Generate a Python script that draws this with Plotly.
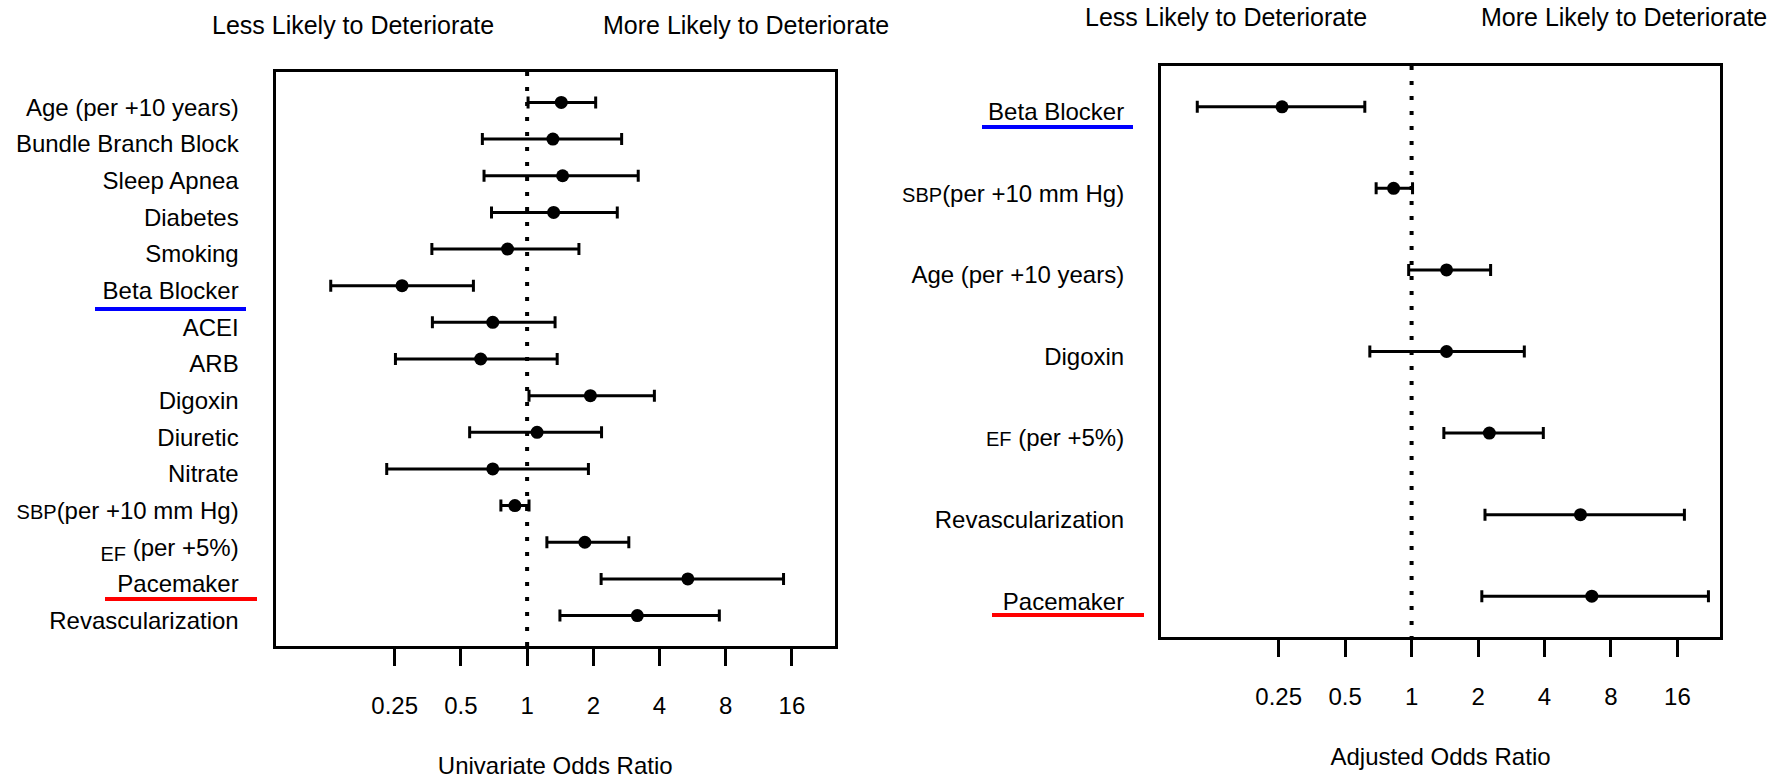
import math
import plotly.graph_objects as go

# ---------------- data ----------------
uni_labels = [
    "Age (per +10 years)", "Bundle Branch Block", "Sleep Apnea", "Diabetes", "Smoking",
    "Beta Blocker", "ACEI", "ARB", "Digoxin", "Diuretic", "Nitrate",
    "<span style='font-size:20px'>SBP</span>(per +10 mm Hg)",
    "<sub><span style='font-size:20px'>EF</span></sub> (per +5%)",
    "Pacemaker", "Revascularization",
]
uni_or = [1.43, 1.31, 1.45, 1.32, 0.815, 0.27, 0.698, 0.615, 1.94, 1.11, 0.698, 0.88, 1.83, 5.38, 3.17]
uni_lo = [1.01, 0.626, 0.637, 0.689, 0.369, 0.128, 0.371, 0.252, 1.02, 0.548, 0.23, 0.76, 1.23, 2.17, 1.41]
uni_hi = [2.05, 2.69, 3.2, 2.57, 1.72, 0.57, 1.34, 1.37, 3.79, 2.18, 1.9, 1.02, 2.9, 14.65, 7.48]

adj_labels = [
    "Beta Blocker",
    "<span style='font-size:20px'>SBP</span>(per +10 mm Hg)",
    "Age (per +10 years)", "Digoxin",
    "<span style='font-size:20px'>EF</span> (per +5%)",
    "Revascularization", "Pacemaker",
]
adj_or = [0.259, 0.829, 1.44, 1.44, 2.25, 5.82, 6.55]
adj_lo = [0.107, 0.691, 0.97, 0.647, 1.40, 2.15, 2.08]
adj_hi = [0.614, 1.01, 2.28, 3.24, 3.95, 17.2, 22.1]

x_tickvals = [0.25, 0.5, 1, 2, 4, 8, 16]
x_ticktext = ["0.25", "0.5", "1", "2", "4", "8", "16"]
ref_or = [1, 1]

W, H = 1784, 783
FONT = "Liberation Sans, Arial, Helvetica, sans-serif"
FS = 24
FS_HEAD = 25


def px(x):
    return x / W


def py(y):
    return 1 - y / H


fig = go.Figure()


def add_panel(labels, orv, lo, hi, xa, ya, yrange):
    ys = list(range(len(labels)))
    fig.add_trace(go.Scatter(
        x=ref_or, y=list(yrange), mode="lines", xaxis=xa, yaxis=ya,
        line=dict(color="black", width=4, dash="4px,11px"), hoverinfo="skip", showlegend=False,
    ))
    fig.add_trace(go.Scatter(
        x=orv, y=ys, mode="markers", xaxis=xa, yaxis=ya, showlegend=False,
        marker=dict(color="black", size=13, symbol="circle"),
        error_x=dict(type="data", symmetric=False,
                     array=[h - o for h, o in zip(hi, orv)],
                     arrayminus=[o - l for o, l in zip(orv, lo)],
                     color="black", thickness=3, width=6),
        text=labels,
    ))
    return ys


ys1 = add_panel(uni_labels, uni_or, uni_lo, uni_hi, "x", "y", (-0.83, 14.83))
ys2 = add_panel(adj_labels, adj_or, adj_lo, adj_hi, "x2", "y2", (-0.5, 6.5))

axis_common = dict(
    type="log", showgrid=False, zeroline=False, showline=True, mirror=True,
    linecolor="black", linewidth=3, ticks="outside", ticklen=17, tickwidth=3,
    tickcolor="black", tickvals=x_tickvals, ticktext=x_ticktext,
    tickfont=dict(family=FONT, size=FS, color="black"), ticklabelstandoff=19,
)
yaxis_common = dict(
    showgrid=False, zeroline=False, showline=True, mirror=True, linecolor="black",
    linewidth=3, ticks="", tickfont=dict(family=FONT, size=FS, color="black"),
    ticklabelstandoff=29, ticklabelshift=-5,
)

fig.update_layout(
    width=W, height=H, autosize=False,
    margin=dict(l=0, r=0, t=0, b=0),
    paper_bgcolor="white", plot_bgcolor="white",
    showlegend=False,
    font=dict(family=FONT, size=FS, color="black"),
    xaxis=dict(domain=[px(275.5), px(835)], anchor="y",
               range=[math.log10(2 ** -3.80), math.log10(2 ** 4.65)],
               title=dict(text="Univariate Odds Ratio", standoff=40,
                          font=dict(family=FONT, size=FS, color="black")),
               **axis_common),
    yaxis=dict(domain=[py(646), py(72)], anchor="x", range=[14.83, -0.83],
               tickvals=ys1, ticktext=uni_labels, **yaxis_common),
    xaxis2=dict(domain=[px(1161), px(1720)], anchor="y2",
                range=[math.log10(2 ** -3.77), math.log10(2 ** 4.64)],
                title=dict(text="Adjusted Odds Ratio", standoff=40,
                           font=dict(family=FONT, size=FS, color="black")),
                **axis_common),
    yaxis2=dict(domain=[py(637), py(66)], anchor="x2", range=[6.5, -0.5],
                tickvals=ys2, ticktext=adj_labels, **yaxis_common),
)

# header annotations
for xc, yc, txt in [(353, 25, "Less Likely to Deteriorate"), (746, 25, "More Likely to Deteriorate"),
                    (1226, 17, "Less Likely to Deteriorate"), (1624, 17, "More Likely to Deteriorate")]:
    fig.add_annotation(x=px(xc), y=py(yc), xref="paper", yref="paper", text=txt,
                       showarrow=False, xanchor="center", yanchor="middle",
                       font=dict(family=FONT, size=FS_HEAD, color="black"))

# coloured underlines
for x0, x1, yy, col in [(95, 246, 309, "#0000ff"), (105, 257, 599, "#ff0000"),
                        (982, 1133, 127, "#0000ff"), (992, 1144, 615, "#ff0000")]:
    fig.add_shape(type="line", xref="paper", yref="paper", x0=px(x0), x1=px(x1),
                  y0=py(yy), y1=py(yy), line=dict(color=col, width=4))

fig.write_html("out.html")
